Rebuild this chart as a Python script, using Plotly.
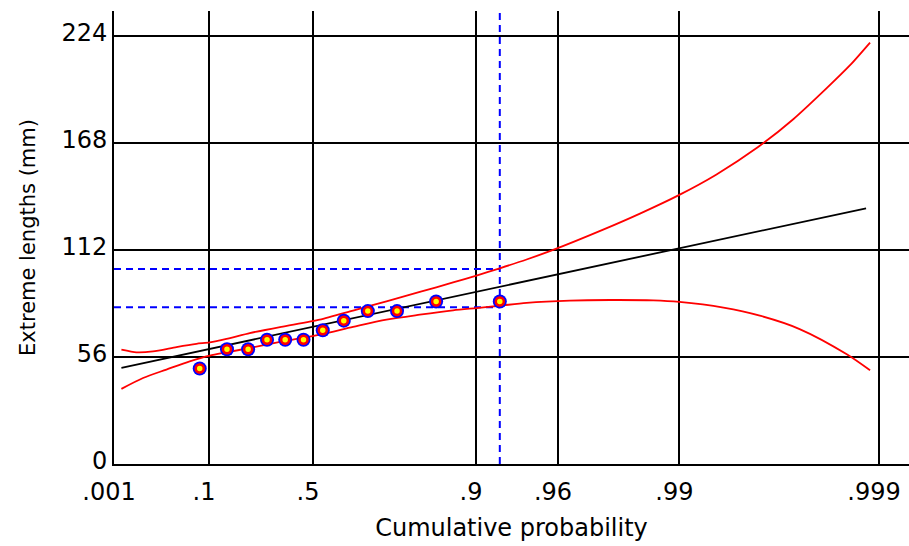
import numpy as np
import plotly.graph_objects as go

# ---- data ----
tick_probs = [0.001, 0.1, 0.5, 0.9, 0.96, 0.99, 0.999]
tick_text = [".001", ".1", ".5", ".9", ".96", ".99", ".999"]
y_ticks = [0, 56, 112, 168, 224]

# observed extremes with their plotting-position probabilities
point_prob = [0.0769, 0.1538, 0.2308, 0.3077, 0.3846, 0.4615,
              0.5385, 0.6154, 0.6923, 0.7692, 0.8462, 0.9231]
point_len = [50, 60, 60, 65, 65, 65, 70, 75, 80, 80, 85, 85]

# fitted Gumbel line (reduced variate, length)
fit_z = [-1.847, 6.758]
fit_len = [50.3, 133.8]

# upper confidence curve (reduced variate, length)
upper_z = [-1.847, -1.674, -1.482, -1.211, -0.98, -0.826, -0.633, -0.364, 0.0,
           0.445, 0.83, 1.216, 1.601, 1.986, 2.256, 2.525, 2.835, 3.142, 3.72,
           4.145, 4.60, 5.03, 5.51, 5.92, 6.30, 6.57, 6.804]
upper_len = [59.8, 58.4, 58.9, 61.2, 62.9, 63.6, 65.4, 68.5, 71.8,
             75.5, 80.3, 85.1, 90.0, 95.0, 98.6, 102.4, 107.0, 112.0, 122.6,
             131.0, 140.8, 151.5, 165.8, 180.5, 196.5, 208.5, 220.5]

# lower confidence curve (reduced variate, length)
lower_z = [-1.847, -1.597, -1.327, -1.058, -0.826, -0.633, -0.364, 0.0, 0.445,
           0.83, 1.216, 1.601, 1.986, 2.256, 2.525, 2.835, 3.335, 3.8, 4.3,
           4.6, 5.11, 5.53, 5.99, 6.535, 6.804]
lower_len = [39.3, 45.0, 49.4, 53.7, 56.7, 58.4, 60.7, 64.0, 67.7,
             71.7, 75.5, 78.1, 80.4, 81.6, 82.8, 84.3, 85.5, 85.8, 85.6,
             84.8, 81.8, 77.6, 70.6, 57.4, 49.0]

# confidence limits at the last observation (dashed guides)
guide_prob = 0.9231
guide_len = [82, 102]

x_max_z = 7.254
y_max = 237


def gz(p):
    """Gumbel reduced variate of a cumulative probability."""
    return -np.log(-np.log(np.asarray(p, dtype=float)))


x_min_z = float(gz(tick_probs[0]))
guide_z = float(gz(guide_prob))

fig = go.Figure()

# dashed guide lines
for v in guide_len:
    fig.add_trace(go.Scatter(x=[x_min_z, guide_z], y=[v, v], mode="lines",
                             line=dict(color="#0000ff", width=2, dash="7px,5px"),
                             hoverinfo="skip", showlegend=False))
fig.add_trace(go.Scatter(x=[guide_z, guide_z], y=[0, y_max], mode="lines",
                         line=dict(color="#0000ff", width=2, dash="7px,5px"),
                         hoverinfo="skip", showlegend=False))

# confidence curves
fig.add_trace(go.Scatter(x=upper_z, y=upper_len, mode="lines",
                         line=dict(color="#ff0000", width=1.8, shape="spline", smoothing=0.6),
                         showlegend=False))
fig.add_trace(go.Scatter(x=lower_z, y=lower_len, mode="lines",
                         line=dict(color="#ff0000", width=1.8, shape="spline", smoothing=0.8),
                         showlegend=False))

# fitted line
fig.add_trace(go.Scatter(x=fit_z, y=fit_len, mode="lines",
                         line=dict(color="#000000", width=1.8), showlegend=False))

# observed points
pz = gz(point_prob)
fig.add_trace(go.Scatter(x=pz, y=point_len, mode="markers",
                         marker=dict(size=14, color="#0000ff", line=dict(width=0)),
                         showlegend=False, hoverinfo="skip"))
fig.add_trace(go.Scatter(x=pz, y=point_len, mode="markers",
                         marker=dict(size=8, color="#ffff00", line=dict(color="#ff0000", width=2.5)),
                         showlegend=False))

fig.update_layout(
    width=909, height=546,
    margin=dict(l=114, r=0, t=11, b=82),
    paper_bgcolor="white", plot_bgcolor="white",
    font=dict(family="DejaVu Sans", size=24, color="black"),
    showlegend=False,
    xaxis=dict(
        range=[x_min_z, x_max_z], automargin=False,
        tickmode="array", tickvals=gz(tick_probs).tolist(), ticktext=tick_text,
        showgrid=True, gridcolor="black", gridwidth=2,
        showline=True, linecolor="black", linewidth=2,
        zeroline=False, ticks="", ticklabelshift=-5, ticklabelstandoff=5,
        tickfont=dict(size=24),
        title=dict(text="Cumulative probability", font=dict(size=24), standoff=14),
    ),
    yaxis=dict(
        range=[0, y_max], automargin=False,
        tickmode="array", tickvals=y_ticks,
        showgrid=True, gridcolor="black", gridwidth=2,
        showline=True, linecolor="black", linewidth=2,
        zeroline=False, ticks="", ticklabelstandoff=0, ticklabelshift=-3,
        tickfont=dict(size=24),
        title=dict(text="Extreme lengths (mm)", font=dict(size=21), standoff=20),
    ),
)

fig.write_html(
    "out.html",
    config={"displayModeBar": False},
    post_script="document.body.style.margin='0';document.body.style.overflow='hidden';",
)
